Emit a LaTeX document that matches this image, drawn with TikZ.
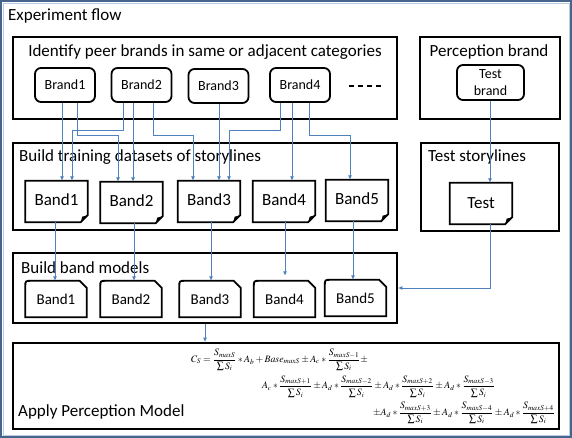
\documentclass[tikz,border=0pt]{standalone}
\usepackage{mathptmx}
\usepackage{fontspec}
\setmainfont{Carlito}
\usetikzlibrary{arrows.meta,calc}
\definecolor{cblue}{RGB}{79,129,189}
\definecolor{frameblue}{RGB}{70,100,140}
\definecolor{framelight}{RGB}{185,205,228}
\newcommand\fsTitle{\fontsize{17pt}{20pt}\selectfont}
\newcommand\fsBrand{\fontsize{14pt}{17pt}\selectfont}
\newcommand\fsDoc{\fontsize{17pt}{20pt}\selectfont}
\newcommand\fsModel{\fontsize{15pt}{18pt}\selectfont}
\begin{document}
\begin{tikzpicture}[x=1pt,y=-1pt,
  secbox/.style={draw=black, line width=1.8pt, inner sep=0pt},
  title/.style={inner sep=0pt, font=\fsTitle},
  brandbox/.style={draw=black, line width=1.8pt, rounded corners=6pt, minimum width=60pt, minimum height=34pt, inner sep=0pt, font=\fsBrand, align=center},
  docnode/.style={inner sep=0pt, minimum width=62pt, minimum height=41pt, font=\fsDoc},
  modnode/.style={inner sep=0pt, minimum width=61pt, minimum height=36pt, font=\fsModel},
  outline/.style={draw=black, line width=1.8pt, line join=miter},
  conn/.style={draw=cblue, line width=0.9pt, -{Latex[length=4.5pt,width=4pt]}},
  formula/.style={inner sep=0pt}
]
\useasboundingbox (0,0) rectangle (572,438);
\fill[white] (0,0) rectangle (572,438);
\draw[frameblue, line width=2.4pt] (1.2,1.2) rectangle (570.8,436.8);
\draw[framelight, line width=0.8pt] (3,3) rectangle (569,435);

\node[title, anchor=west] (exp) at (8,16) {Experiment flow};

% section boxes
\node[secbox, minimum width=384pt, minimum height=82pt] (ident) at (205,78) {};
\node[secbox, minimum width=140pt, minimum height=82pt] (percep) at (490,78) {};
\node[secbox, minimum width=384pt, minimum height=87pt] (train) at (205,186.5) {};
\node[secbox, minimum width=138pt, minimum height=88pt] (teststor) at (490,187) {};
\node[secbox, minimum width=384pt, minimum height=70pt] (models) at (205,288) {};
\node[secbox, minimum width=546pt, minimum height=86pt] (apply) at (286,386) {};

% titles
\node[title] (identT) at (205,52) {Identify peer brands in same or adjacent categories};
\node[title] (percepT) at (489,52) {Perception brand};
\node[title, anchor=west] (trainT) at (19,157) {Build training datasets of storylines};
\node[title, anchor=west] (teststorT) at (428,157) {Test storylines};
\node[title, anchor=west] (modelsT) at (21,268) {Build band models};
\node[title, anchor=west] (applyT) at (18,412) {Apply Perception Model};

% brands
\node[brandbox] (B1) at (65,85) {Brand1};
\node[brandbox] (B2) at (141.5,85) {Brand2};
\node[brandbox] (B3) at (218.5,86) {Brand3};
\node[brandbox] (B4) at (300,85) {Brand4};
\coordinate (dashA) at (349,86);
\coordinate (dashB) at (384,86);
\draw[black, line width=1.3pt, dash pattern=on 5pt off 4pt] (dashA) -- (dashB);
\node[brandbox, minimum width=67pt, minimum height=35pt, font={\fontsize{14pt}{17pt}\selectfont}] (TB) at (490.5,82.5) {Test\\brand};

% documents
\node[docnode] (D1) at (56.5,201.5) {\raisebox{3pt}{Band1}};
\node[docnode] (D2) at (131.5,202.5) {\raisebox{3pt}{Band2}};
\node[docnode] (D3) at (209,201.5) {\raisebox{3pt}{Band3}};
\node[docnode] (D4) at (284,201.5) {\raisebox{3pt}{Band4}};
\node[docnode] (D5) at (357,200.5) {\raisebox{3pt}{Band5}};
\node[docnode] (TD) at (481,203.5) {\raisebox{1pt}{Test}};
\foreach \n in {D1,D2,D3,D4,D5,TD}{
  \draw[outline] (\n.north west) -- (\n.north east) -- ([yshift=7pt]\n.south east)
     -- ([xshift=-7pt]\n.south east) -- (\n.south west) -- cycle;
  \fill[black] ([yshift=7pt]\n.south east) -- ([xshift=-7pt]\n.south east)
     -- ([xshift=-5.5pt,yshift=5.5pt]\n.south east) -- cycle;
}

% models
\node[modnode] (M1) at (56,299) {Band1};
\node[modnode] (M2) at (131,299) {Band2};
\node[modnode] (M3) at (210,299) {Band3};
\node[modnode] (M4) at (284.5,299) {Band4};
\node[modnode] (M5) at (355.5,298) {Band5};
\foreach \n in {M1,M2,M3,M4,M5}{
  \draw[outline] (\n.south west) -- ([yshift=-6pt]\n.north west)
     .. controls (\n.north west) .. ([xshift=6pt]\n.north west)
     -- ([xshift=-7pt]\n.north east) -- ([yshift=-7pt]\n.north east)
     -- (\n.south east) -- cycle;
}

% formula
\node[formula] (F1) at (279.5,360) {\resizebox{177pt}{!}{$\displaystyle C_S=\frac{S_{maxS}}{\sum S_i}*A_b+Base_{maxS}\pm A_c*\frac{S_{maxS-1}}{\sum S_i}\pm$}};
\node[formula] (F2) at (378.5,386.5) {\resizebox{233pt}{!}{$\displaystyle A_c*\frac{S_{maxS+1}}{\sum S_i}\pm A_d*\frac{S_{maxS-2}}{\sum S_i}\pm A_d*\frac{S_{maxS+2}}{\sum S_i}\pm A_d*\frac{S_{maxS-3}}{\sum S_i}$}};
\node[formula] (F3) at (464,413) {\resizebox{182pt}{!}{$\displaystyle \pm A_d*\frac{S_{maxS+3}}{\sum S_i}\pm A_d*\frac{S_{maxS-4}}{\sum S_i}\pm A_d*\frac{S_{maxS+4}}{\sum S_i}$}};

% elbow levels
\coordinate (lvA) at (0,130);
\coordinate (lvB) at (0,135);

% brands -> documents
\draw[conn] ([xshift=-3pt]B1.south) -- ([xshift=-3pt]B1.south |- D1.north);
\draw[conn] ([xshift=12pt]B1.south) -- ([xshift=12pt]B1.south |- lvB) -| ([xshift=-13.5pt]D2.north);
\draw[conn] ([xshift=-18.5pt]B2.south) -- ([xshift=-18.5pt]B2.south |- lvA) -| ([xshift=15.5pt]D1.north);
\draw[conn] ([xshift=-8.5pt]B2.south) -- ([xshift=-8.5pt]B2.south |- D2.north);
\draw[conn] ([xshift=11.5pt]B2.south) -- ([xshift=11.5pt]B2.south |- lvB) -| ([xshift=-16pt]D3.north);
\draw[conn] ([xshift=0.5pt]B3.south) -- ([xshift=0.5pt]B3.south |- D3.north);
\draw[conn] ([xshift=-20pt]B4.south) -- ([xshift=-20pt]B4.south |- lvA) -| ([xshift=20pt]D3.north);
\draw[conn] ([xshift=-8pt]B4.south) -- ([xshift=-8pt]B4.south |- D4.north);
\draw[conn] ([xshift=9pt]B4.south) -- ([xshift=9pt]B4.south |- lvB) -| ([xshift=-7pt]D5.north);
\draw[conn] ([xshift=-0.5pt]TB.south) -- ([xshift=-0.5pt]TB.south |- TD.north);

% documents -> models
\draw[conn] ([xshift=-1.5pt]D1.south) -- ([xshift=-1.5pt]D1.south |- M1.north);
\draw[conn] ([xshift=2.5pt]D2.south) -- ([xshift=2.5pt]D2.south |- M2.north);
\draw[conn] ([xshift=2pt]D3.south) -- ([xshift=2pt]D3.south |- M3.north);
\draw[conn, shorten >=5pt] ([xshift=1pt]D4.south) -- ([xshift=1pt]D4.south |- M4.north);
\draw[conn] ([xshift=-4pt]D5.south) -- ([xshift=-4pt]D5.south |- M5.north);
\draw[conn] ([xshift=9.5pt]TD.south) |- (models.east);

% models -> apply
\draw[conn] (models.south) -- (models.south |- apply.north);
\end{tikzpicture}
\end{document}
